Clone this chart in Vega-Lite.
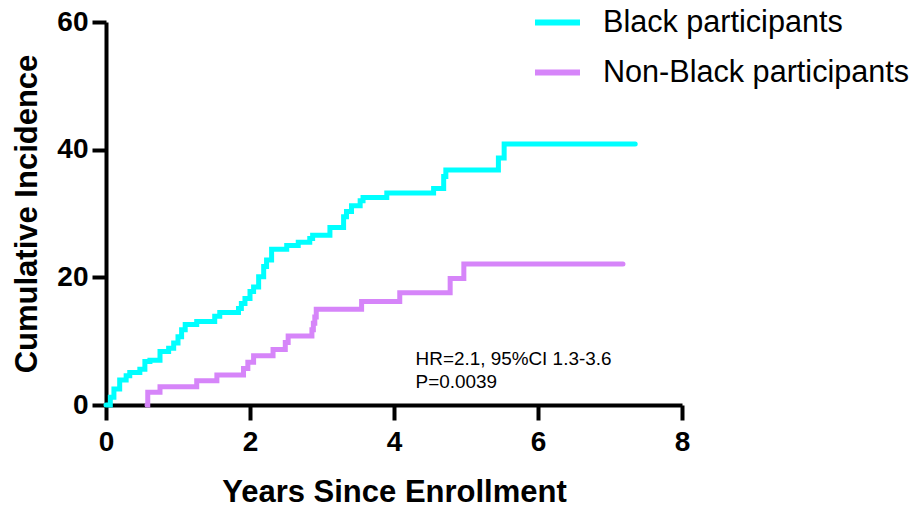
{
  "$schema": "https://vega.github.io/schema/vega-lite/v6.json",
  "width": 576,
  "height": 383,
  "autosize": "none",
  "padding": {"left": 106, "top": 22, "right": 230, "bottom": 107},
  "background": "white",
  "config": {
    "view": {"stroke": null},
    "font": "Liberation Sans",
    "axis": {
      "grid": false,
      "domainColor": "black",
      "domainWidth": 4,
      "tickColor": "black",
      "tickWidth": 4,
      "labelColor": "black",
      "labelFont": "Liberation Sans",
      "labelFontWeight": "bold",
      "labelFontSize": 28,
      "titleFont": "Liberation Sans",
      "titleFontWeight": "bold",
      "titleFontSize": 31,
      "titleColor": "black",
      "zindex": 1,
      "labelFlush": false,
      "labelOverlap": false
    }
  },
  "layer": [
    {
      "data": {
        "values": [
          {"group": "Black participants", "t": 0.00, "ci": 0},
          {"group": "Black participants", "t": 0.06, "ci": 1.2},
          {"group": "Black participants", "t": 0.11, "ci": 2.5},
          {"group": "Black participants", "t": 0.19, "ci": 3.9},
          {"group": "Black participants", "t": 0.28, "ci": 4.6},
          {"group": "Black participants", "t": 0.33, "ci": 5.1},
          {"group": "Black participants", "t": 0.47, "ci": 5.6},
          {"group": "Black participants", "t": 0.54, "ci": 6.8},
          {"group": "Black participants", "t": 0.61, "ci": 7.0},
          {"group": "Black participants", "t": 0.75, "ci": 8.4},
          {"group": "Black participants", "t": 0.87, "ci": 8.9},
          {"group": "Black participants", "t": 0.94, "ci": 9.7},
          {"group": "Black participants", "t": 1.00, "ci": 10.7},
          {"group": "Black participants", "t": 1.05, "ci": 11.8},
          {"group": "Black participants", "t": 1.10, "ci": 12.6},
          {"group": "Black participants", "t": 1.26, "ci": 13.1},
          {"group": "Black participants", "t": 1.51, "ci": 13.9},
          {"group": "Black participants", "t": 1.58, "ci": 14.5},
          {"group": "Black participants", "t": 1.84, "ci": 15.1},
          {"group": "Black participants", "t": 1.88, "ci": 15.9},
          {"group": "Black participants", "t": 1.93, "ci": 16.7},
          {"group": "Black participants", "t": 2.00, "ci": 17.8},
          {"group": "Black participants", "t": 2.05, "ci": 18.5},
          {"group": "Black participants", "t": 2.12, "ci": 20.1},
          {"group": "Black participants", "t": 2.19, "ci": 21.7},
          {"group": "Black participants", "t": 2.23, "ci": 22.7},
          {"group": "Black participants", "t": 2.30, "ci": 24.4},
          {"group": "Black participants", "t": 2.51, "ci": 25.0},
          {"group": "Black participants", "t": 2.67, "ci": 25.5},
          {"group": "Black participants", "t": 2.83, "ci": 26.1},
          {"group": "Black participants", "t": 2.87, "ci": 26.6},
          {"group": "Black participants", "t": 3.11, "ci": 27.8},
          {"group": "Black participants", "t": 3.30, "ci": 29.5},
          {"group": "Black participants", "t": 3.34, "ci": 30.3},
          {"group": "Black participants", "t": 3.41, "ci": 31.2},
          {"group": "Black participants", "t": 3.53, "ci": 32.0},
          {"group": "Black participants", "t": 3.57, "ci": 32.5},
          {"group": "Black participants", "t": 3.90, "ci": 33.2},
          {"group": "Black participants", "t": 4.55, "ci": 33.9},
          {"group": "Black participants", "t": 4.69, "ci": 35.8},
          {"group": "Black participants", "t": 4.72, "ci": 36.8},
          {"group": "Black participants", "t": 5.45, "ci": 38.7},
          {"group": "Black participants", "t": 5.53, "ci": 40.9},
          {"group": "Black participants", "t": 7.35, "ci": 40.9},
          {"group": "Non-Black participants", "t": 0.57, "ci": 0},
          {"group": "Non-Black participants", "t": 0.58, "ci": 2.0},
          {"group": "Non-Black participants", "t": 0.75, "ci": 2.85},
          {"group": "Non-Black participants", "t": 1.26, "ci": 3.8},
          {"group": "Non-Black participants", "t": 1.54, "ci": 4.7},
          {"group": "Non-Black participants", "t": 1.91, "ci": 5.7},
          {"group": "Non-Black participants", "t": 1.97, "ci": 6.7},
          {"group": "Non-Black participants", "t": 2.05, "ci": 7.7},
          {"group": "Non-Black participants", "t": 2.32, "ci": 8.7},
          {"group": "Non-Black participants", "t": 2.49, "ci": 9.8},
          {"group": "Non-Black participants", "t": 2.53, "ci": 10.8},
          {"group": "Non-Black participants", "t": 2.86, "ci": 11.8},
          {"group": "Non-Black participants", "t": 2.88, "ci": 12.8},
          {"group": "Non-Black participants", "t": 2.90, "ci": 13.8},
          {"group": "Non-Black participants", "t": 2.92, "ci": 15.0},
          {"group": "Non-Black participants", "t": 3.55, "ci": 16.2},
          {"group": "Non-Black participants", "t": 4.08, "ci": 17.6},
          {"group": "Non-Black participants", "t": 4.78, "ci": 19.8},
          {"group": "Non-Black participants", "t": 4.97, "ci": 22.1},
          {"group": "Non-Black participants", "t": 7.18, "ci": 22.1}
        ]
      },
      "mark": {
        "type": "line",
        "interpolate": "step-after",
        "strokeWidth": 5,
        "strokeCap": "round",
        "strokeJoin": "miter"
      },
      "encoding": {
        "x": {
          "field": "t",
          "type": "quantitative",
          "scale": {"domain": [0, 8], "nice": false, "zero": true},
          "axis": {
            "values": [0, 2, 4, 6, 8],
            "format": "d",
            "title": "Years Since Enrollment",
            "tickSize": 15,
            "labelPadding": 8,
            "titleBaseline": "alphabetic",
            "titleY": 96
          }
        },
        "y": {
          "field": "ci",
          "type": "quantitative",
          "scale": {"domain": [0, 60], "nice": false},
          "axis": {
            "values": [0, 20, 40, 60],
            "format": "d",
            "title": "Cumulative Incidence",
            "tickSize": 14,
            "labelPadding": 4,
            "titleBaseline": "alphabetic",
            "titleX": -70,
            "titleY": 191.5
          }
        },
        "color": {
          "field": "group",
          "type": "nominal",
          "scale": {
            "domain": ["Black participants", "Non-Black participants"],
            "range": ["#00FFFF", "#D685F9"]
          },
          "legend": {
            "title": null,
            "orient": "none",
            "legendX": 426,
            "legendY": -25,
            "padding": 0,
            "symbolType": "stroke",
            "symbolSize": 2025,
            "symbolStrokeWidth": 6,
            "labelFont": "Liberation Sans",
            "labelFontSize": 30.6,
            "labelColor": "black",
            "labelLimit": 500,
            "labelOffset": 20,
            "rowPadding": 8
          }
        }
      }
    },
    {
      "data": {"values": [{"label": "HR=2.1, 95%CI 1.3-3.6\nP=0.0039"}]},
      "mark": {
        "type": "text",
        "align": "left",
        "baseline": "alphabetic",
        "lineBreak": "\n",
        "lineHeight": 23,
        "font": "Liberation Sans",
        "fontSize": 18.9,
        "color": "black"
      },
      "encoding": {
        "x": {"datum": 4.3, "type": "quantitative"},
        "y": {"datum": 6.27, "type": "quantitative"},
        "text": {"field": "label", "type": "nominal"}
      }
    }
  ]
}
